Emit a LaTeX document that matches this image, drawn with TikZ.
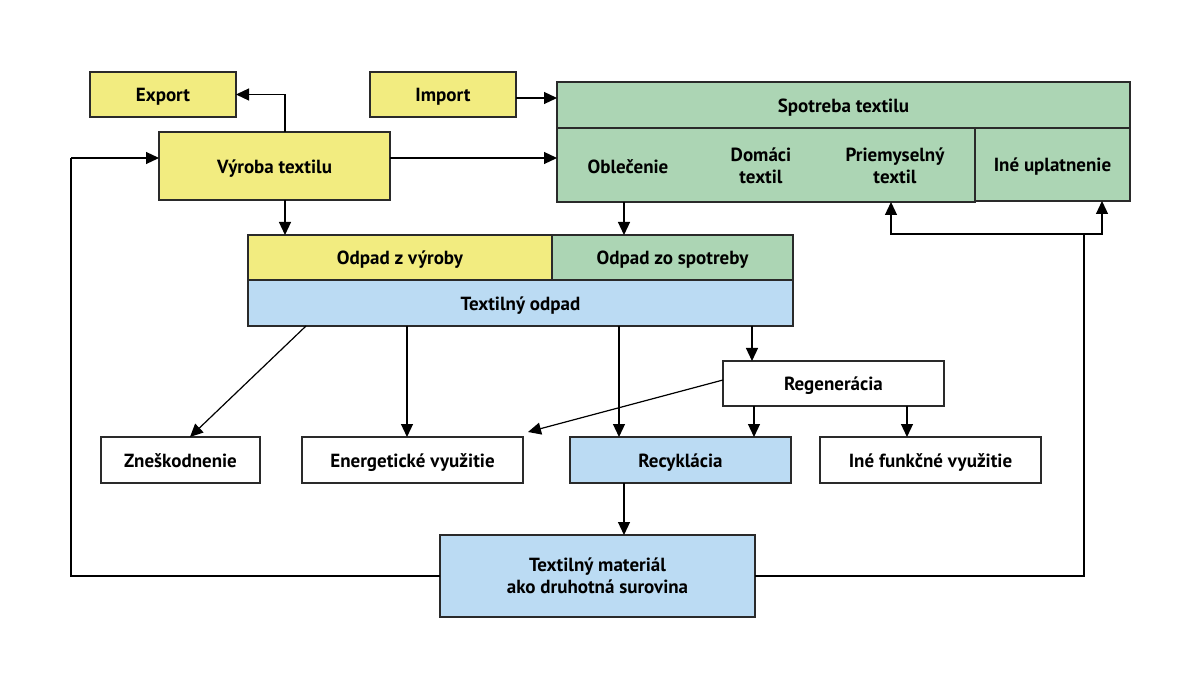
\documentclass[tikz,border=0pt]{standalone}
\usepackage{fontspec}
\setmainfont{PT Sans}
\usetikzlibrary{arrows.meta,calc}
\definecolor{yel}{HTML}{F2EC80}
\definecolor{grn}{HTML}{ACD5B4}
\definecolor{blu}{HTML}{BBDBF3}
\definecolor{edge}{HTML}{2A2A2A}
\begin{document}
\begin{tikzpicture}[x=1pt,y=-1pt,
  boxbase/.style={draw=edge,line width=1.3pt,inner sep=0pt,outer sep=0pt,align=center,
    font=\bfseries\fontsize{19}{22}\selectfont},
  box/.style={boxbase,text height=15pt,text depth=0pt},
  lbl/.style={inner sep=0pt,align=center,font=\bfseries\fontsize{19}{22}\selectfont},
  arr/.style={draw=black,line width=1.2pt,-{Triangle[length=13pt,width=12pt]}},
  ln/.style={draw=black,line width=1.2pt}]
\useasboundingbox[fill=white] (0,0) rectangle (1200,676);
% boxes
\node[box,fill=yel,minimum width=146pt,minimum height=45pt] (export) at (163,94.5) {Export};
\node[box,fill=yel,minimum width=146pt,minimum height=45pt] (import) at (443,94.5) {Import};
\node[box,fill=yel,minimum width=231pt,minimum height=68pt] (vyroba) at (274.5,166) {Výroba textilu};
\node[box,fill=grn,minimum width=573pt,minimum height=46pt] (spothead) at (843.5,105) {Spotreba textilu};
\node[box,fill=grn,minimum width=418pt,minimum height=74pt] (spotleft) at (766,165) {};
\node[box,fill=grn,minimum width=155pt,minimum height=73pt] (ine) at (1052.5,164.5) {Iné uplatnenie};
\node[lbl,text height=15pt,text depth=0pt] (obl) at (628,166) {Oblečenie};
\node[lbl] (dom) at (761,166) {Domáci\\textil};
\node[lbl] (pri) at (895,166) {Priemyselný\\textil};
\node[box,fill=yel,minimum width=304pt,minimum height=45pt] (odv) at (400,257.5) {Odpad z výroby};
\node[box,fill=grn,minimum width=241pt,minimum height=45pt] (ods) at (672.5,257.5) {Odpad zo spotreby};
\node[box,fill=blu,minimum width=545pt,minimum height=46pt] (todpad) at (520.5,303) {Textilný odpad};
\node[box,fill=white,minimum width=221pt,minimum height=45pt] (reg) at (833.5,383.5) {Regenerácia};
\node[box,fill=white,minimum width=159pt,minimum height=46pt] (znes) at (180.5,460) {Zneškodnenie};
\node[box,fill=white,minimum width=221pt,minimum height=46pt] (energ) at (412.5,460) {Energetické využitie};
\node[box,fill=blu,minimum width=221pt,minimum height=46pt] (recy) at (680.5,460) {Recyklácia};
\node[box,fill=white,minimum width=221pt,minimum height=46pt] (inef) at (930.5,460) {Iné funkčné využitie};
\node[boxbase,fill=blu,minimum width=315pt,minimum height=82pt] (tmat) at (597.5,576) {Textilný materiál\\ako druhotná surovina};
% helper coordinates
\coordinate (vtop) at ([xshift=10.5pt]vyroba.north);
\coordinate (vbot) at ([xshift=10.5pt]vyroba.south);
\coordinate (vR) at ([yshift=8pt]vyroba.east);
\coordinate (vL) at ([yshift=8pt]vyroba.west);
\coordinate (impR) at ([yshift=-3.5pt]import.east);
\coordinate (sdown) at ([xshift=-142pt]spotleft.south);
\coordinate (jn) at (1084,234);
\coordinate (lp) at (71,158);
% connectors
\draw[arr] (vtop) |- (export.east);
\draw[arr] (impR) -- (impR -| spothead.west);
\draw[arr] (vR) -- (vR -| spotleft.west);
\draw[arr] (vbot) -- (vbot |- odv.north);
\draw[arr] (sdown) -- (sdown |- ods.north);
\draw[ln] (tmat.east) -| (jn);
\draw[arr] (jn) -| ([xshift=125pt]spotleft.south);
\draw[arr] (jn) -| ([xshift=49.5pt]ine.south);
\draw[ln] (tmat.west) -| (lp);
\draw[arr] (lp) -- (vL);
\draw[arr] ([xshift=-214.5pt]todpad.south) -- ([xshift=9.5pt]znes.north);
\coordinate (t2) at ([xshift=-113.5pt]todpad.south);
\draw[arr] (t2) -- (t2 |- energ.north);
\coordinate (t3) at ([xshift=98.5pt]todpad.south);
\draw[arr] (t3) -- (t3 |- recy.north);
\coordinate (t4) at ([xshift=231.5pt]todpad.south);
\draw[arr] (t4) -- (t4 |- reg.north);
\draw[arr] ([yshift=3.5pt]reg.west) -- ([shift={(5pt,5pt)}]energ.north east);
\coordinate (r1) at ([xshift=-79.5pt]reg.south);
\draw[arr] (r1) -- (r1 |- recy.north);
\coordinate (r2) at ([xshift=73.5pt]reg.south);
\draw[arr] (r2) -- (r2 |- inef.north);
\coordinate (rc) at ([xshift=-56.5pt]recy.south);
\draw[arr] (rc) -- (rc |- tmat.north);
\end{tikzpicture}
\end{document}
